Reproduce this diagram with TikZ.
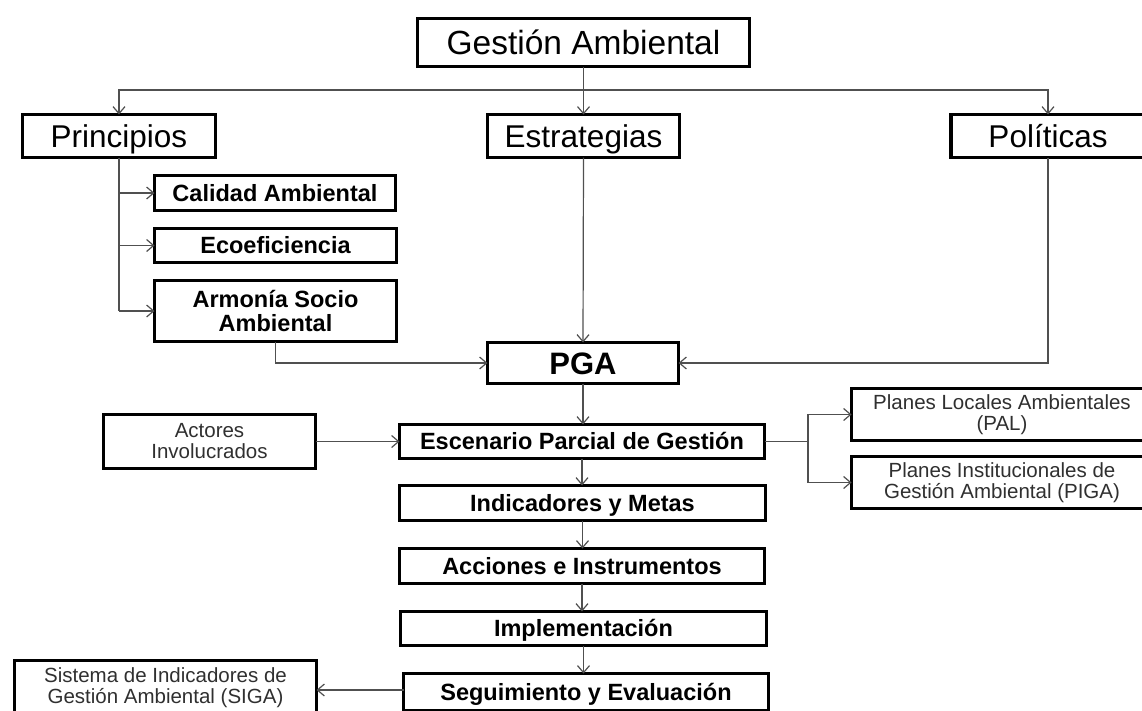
\documentclass[tikz,border=0pt]{standalone}
\usepackage{fontspec}
\setmainfont{Liberation Sans}
\usetikzlibrary{arrows.meta}
\definecolor{linegray}{HTML}{505050}
\definecolor{txtgray}{HTML}{303030}
\begin{document}
\begin{tikzpicture}[x=1pt,y=-1pt,
  box/.style={draw=black, line width=3.6pt, inner sep=0pt, outer sep=0pt, align=center, text=black},
  bigtxt/.style={font=\fontsize{33.5}{36}\selectfont, text height=24pt, text depth=0pt},
  midtxt/.style={font=\fontsize{31.5}{34}\selectfont, text height=22.5pt, text depth=0pt},
  boldtxt/.style={font=\bfseries\fontsize{23.5}{25}\selectfont, text height=16.8pt, text depth=0pt},
  boldtwo/.style={font=\bfseries\fontsize{23.5}{24.5}\selectfont},
  pgatxt/.style={font=\bfseries\fontsize{31}{33}\selectfont, text height=22.2pt, text depth=0pt},
  smalltxt/.style={font=\fontsize{20.5}{21}\selectfont, text=txtgray},
  link/.style={draw=linegray, line width=1.2pt},
  conn/.style={link, -{Straight Barb[length=7pt,width=12pt,line width=1.2pt]}}]
\useasboundingbox (0,0) rectangle (1142,710);
\clip (0,0) rectangle (1142,710);
\fill[white] (0,0) rectangle (1142,710);

% nodes
\node[box,bigtxt,minimum width=332,minimum height=48] (title) at (583.5,42.5) {Gestión Ambiental};
\node[box,midtxt,minimum width=193,minimum height=43] (prin) at (119,136) {Principios};
\node[box,midtxt,minimum width=192,minimum height=43] (estr) at (583.5,136) {Estrategias};
\node[box,midtxt,minimum width=194,minimum height=43] (pol) at (1048,136) {Políticas};
\node[box,boldtxt,minimum width=241,minimum height=35] (cal) at (275,193) {Calidad Ambiental};
\node[box,boldtxt,minimum width=242,minimum height=34] (eco) at (275.5,245.5) {Ecoeficiencia};
\node[box,boldtwo,minimum width=242,minimum height=61] (arm) at (275.5,311) {Armonía Socio\\Ambiental};
\node[box,pgatxt,minimum width=191,minimum height=41] (pga) at (583,363) {PGA};
\node[box,boldtxt,minimum width=365,minimum height=34] (esc) at (582,441.5) {Escenario Parcial de Gestión};
\node[box,smalltxt,minimum width=212,minimum height=54] (act) at (209.5,441.5) {Actores\\Involucrados};
\node[box,boldtxt,minimum width=366,minimum height=35] (ind) at (582.5,503) {Indicadores y Metas};
\node[box,boldtxt,minimum width=365,minimum height=35] (acc) at (582,566) {Acciones e Instrumentos};
\node[box,boldtxt,minimum width=366,minimum height=34] (imp) at (583.5,628.5) {Implementación};
\node[box,boldtxt,minimum width=365,minimum height=37] (seg) at (586,692) {Seguimiento y Evaluación};
\node[box,smalltxt,minimum width=302,minimum height=55] (siga) at (165.5,688) {Sistema de Indicadores de\\Gestión Ambiental (SIGA)};
\node[box,smalltxt,minimum width=301,minimum height=52] (pal) at (1002,414.5) {Planes Locales Ambientales\\(PAL)};
\node[box,smalltxt,minimum width=301,minimum height=52] (piga) at (1002,482.5) {Planes Institucionales de\\Gestión Ambiental (PIGA)};

% coordinates
\coordinate (hub) at (583.5,90);
\coordinate (br) at (808,441.5);

% connectors top
\draw[conn] (title.south) -- (estr.north);
\draw[conn] (hub) -| (prin.north);
\draw[conn] (hub) -| (pol.north);

% principios branches
\draw[link] (prin.south) -- (prin.south |- arm.west);
\draw[conn] (prin.south |- cal.west) -- (cal.west);
\draw[conn] (prin.south |- eco.west) -- (eco.west);
\draw[conn] (prin.south |- arm.west) -- (arm.west);

% into PGA
\draw[conn] (arm.south) |- (pga.west);
\draw[conn] (estr.south) -- (pga.north);
\draw[conn] (pol.south) |- (pga.east);

% main chain
\draw[conn] (pga.south) -- (pga.south |- esc.north);
\draw[conn] (act.east) -- (esc.west);
\draw[conn] (esc.south) -- (esc.south |- ind.north);
\draw[conn] (ind.south) -- (ind.south |- acc.north);
\draw[conn] (acc.south) -- (acc.south |- imp.north);
\draw[conn] (imp.south) -- (imp.south |- seg.north);

% right branch
\draw[link] (esc.east) -- (br);
\draw[conn] (br) |- (pal.west);
\draw[conn] (br) |- (piga.west);

% SIGA
\draw[conn] (seg.west |- 0,690) -- (siga.east |- 0,690);
\end{tikzpicture}
\end{document}
